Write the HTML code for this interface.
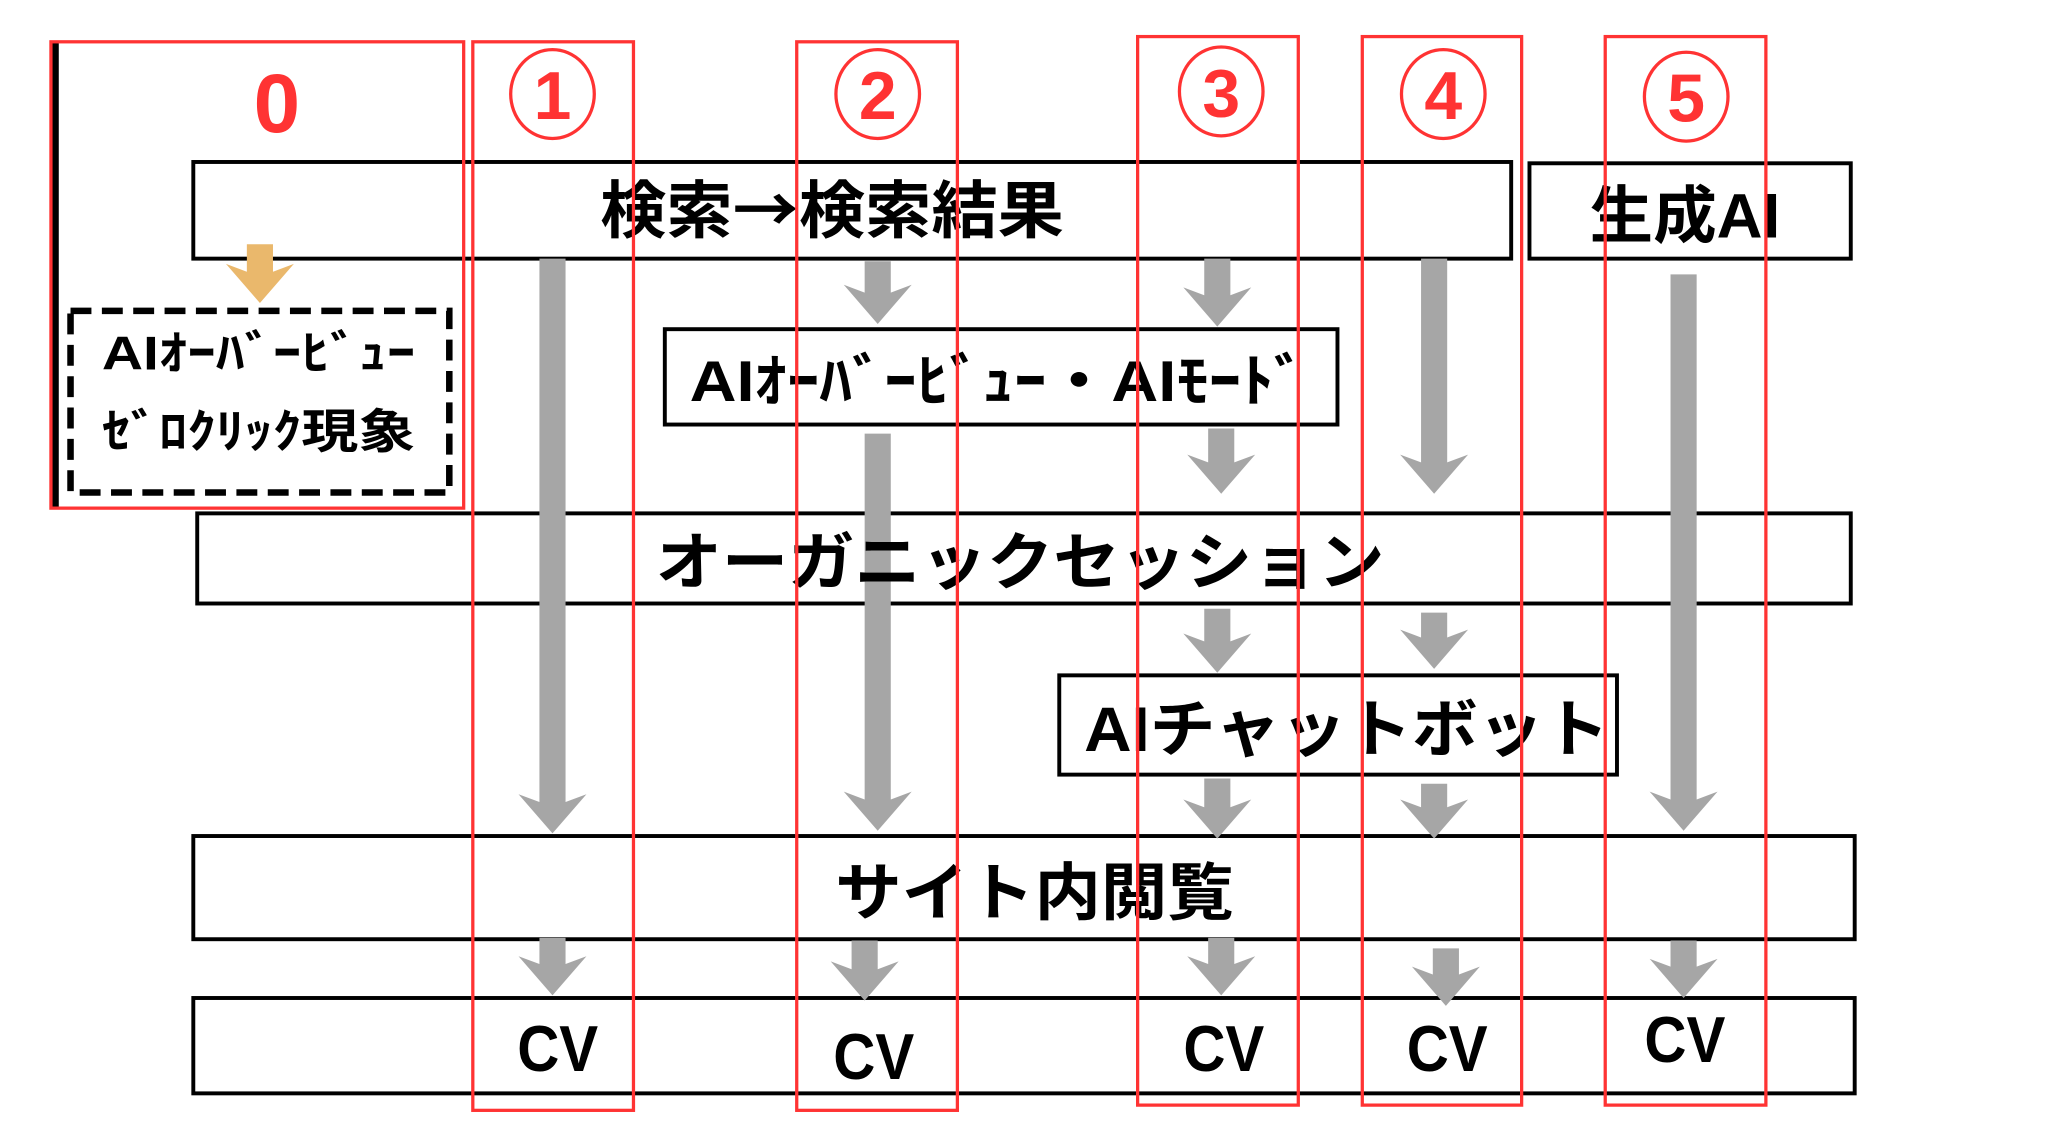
<!DOCTYPE html>
<html><head><meta charset="utf-8"><style>
html,body{margin:0;padding:0;background:#fff;}
svg{display:block;}
text{font-family:"Liberation Sans","Noto Sans CJK JP",sans-serif;font-weight:bold;}
.jp{font-family:"Noto Sans CJK JP",sans-serif;}
</style></head><body>
<svg width="2048" height="1143" viewBox="0 0 1568 875" preserveAspectRatio="none" xmlns="http://www.w3.org/2000/svg">
<rect width="1568" height="875" fill="#fff"/>
<g fill="none" stroke="#000" stroke-width="3">
<rect x="148" y="124" width="1009" height="74"/>
<rect x="1171" y="125" width="246" height="73"/>
<rect x="509" y="252" width="515" height="73"/>
<rect x="151" y="393" width="1266" height="69"/>
<rect x="811" y="517" width="427" height="76"/>
<rect x="148" y="640" width="1272" height="79"/>
<rect x="148" y="764" width="1272" height="73"/>
<rect x="54" y="238" width="290" height="139" stroke-width="5" stroke-dasharray="16,8"/>
</g>
<rect x="40" y="32" width="5" height="357" fill="#000"/>
<g fill="#a6a6a6">
<polygon points="413,198 433,198 433,614 449,608 423,638 397,608 413,614"/>
<polygon points="662,200 682,200 682,224 698,218 672,248 646,218 662,224"/>
<polygon points="662,332 682,332 682,612 698,606 672,636 646,606 662,612"/>
<polygon points="922,198 942,198 942,226 958,220 932,250 906,220 922,226"/>
<polygon points="925,328 945,328 945,354 961,348 935,378 909,348 925,354"/>
<polygon points="922,466 942,466 942,491 958,485 932,515 906,485 922,491"/>
<polygon points="922,596 942,596 942,618 958,612 932,642 906,612 922,618"/>
<polygon points="1088,198 1108,198 1108,354 1124,348 1098,378 1072,348 1088,354"/>
<polygon points="1088,469 1108,469 1108,488 1124,482 1098,512 1072,482 1088,488"/>
<polygon points="1088,600 1108,600 1108,618 1124,612 1098,642 1072,612 1088,618"/>
<polygon points="1279,210 1299,210 1299,612 1315,606 1289,636 1263,606 1279,612"/>
<polygon points="413,718 433,718 433,738 449,732 423,762 397,732 413,738"/>
<polygon points="652,720 672,720 672,742 688,736 662,766 636,736 652,742"/>
<polygon points="925,718 945,718 945,738 961,732 935,762 909,732 925,738"/>
<polygon points="1097,726 1117,726 1117,746 1133,740 1107,770 1081,740 1097,746"/>
<polygon points="1279,720 1299,720 1299,740 1315,734 1289,764 1263,734 1279,740"/>
</g>
<polygon fill="#eab86c" points="189,187 209,187 209,208 225,202 199,232 173,202 189,208"/>
<g fill="#000" text-anchor="middle">
<text class="jp" x="637" y="178" font-size="48" textLength="355" lengthAdjust="spacingAndGlyphs">検索→検索結果</text>
<text x="1290" y="182" font-size="48" textLength="146" lengthAdjust="spacingAndGlyphs">生成AI</text>
<text x="764" y="307" font-size="44" textLength="472" lengthAdjust="spacingAndGlyphs">AIｵｰﾊﾞｰﾋﾞｭｰ・AIﾓｰﾄﾞ</text>
<text x="781" y="447" font-size="48" textLength="558" lengthAdjust="spacingAndGlyphs">オーガニックセッション</text>
<text x="1031" y="575" font-size="48" textLength="402" lengthAdjust="spacingAndGlyphs">AIチャットボット</text>
<text x="792" y="700" font-size="48" textLength="305" lengthAdjust="spacingAndGlyphs">サイト内閲覧</text>
<text x="198" y="283" font-size="36" textLength="240" lengthAdjust="spacingAndGlyphs">AIｵｰﾊﾞｰﾋﾞｭｰ</text>
<text x="198" y="343" font-size="36" textLength="240" lengthAdjust="spacingAndGlyphs">ｾﾞﾛｸﾘｯｸ現象</text>
<text x="427" y="820" font-size="50" textLength="62" lengthAdjust="spacingAndGlyphs">CV</text>
<text x="669" y="826" font-size="50" textLength="62" lengthAdjust="spacingAndGlyphs">CV</text>
<text x="937" y="820" font-size="50" textLength="62" lengthAdjust="spacingAndGlyphs">CV</text>
<text x="1108" y="820" font-size="50" textLength="62" lengthAdjust="spacingAndGlyphs">CV</text>
<text x="1290" y="813" font-size="50" textLength="62" lengthAdjust="spacingAndGlyphs">CV</text>
</g>
<g fill="none" stroke="#ff3333" stroke-width="2.5">
<rect x="39" y="32" width="316" height="357"/>
<rect x="362" y="32" width="123" height="818"/>
<rect x="610" y="32" width="123" height="818"/>
<rect x="871" y="28" width="123" height="818"/>
<rect x="1043" y="28" width="122" height="818"/>
<rect x="1229" y="28" width="123" height="818"/>
<ellipse cx="423" cy="72" rx="32" ry="34"/>
<ellipse cx="672" cy="72" rx="32" ry="34"/>
<ellipse cx="935" cy="70" rx="32" ry="34"/>
<ellipse cx="1105" cy="72" rx="32" ry="34"/>
<ellipse cx="1291" cy="74" rx="32" ry="34"/>
</g>
<g fill="#ff3333" text-anchor="middle" font-size="52">
<text x="212" y="101" font-size="64">0</text>
<text x="423" y="91">1</text>
<text x="672" y="91">2</text>
<text x="935" y="89">3</text>
<text x="1105" y="91">4</text>
<text x="1291" y="93">5</text>
</g>
</svg>
</body></html>
